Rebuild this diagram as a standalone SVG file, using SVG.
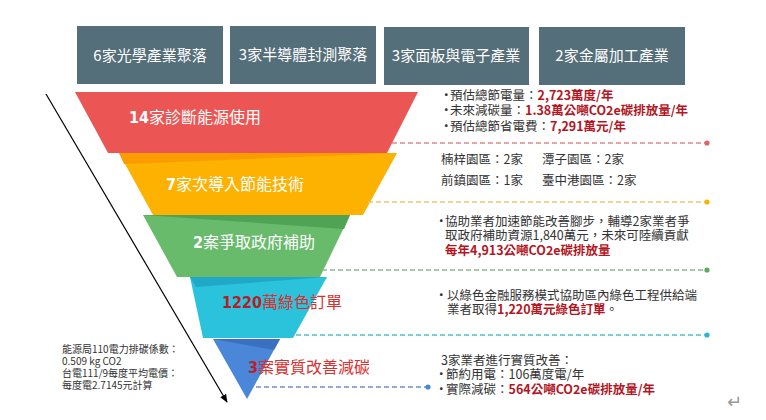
<svg xmlns="http://www.w3.org/2000/svg" width="766" height="420" viewBox="0 0 766 420">
<defs>
<style>
.hb{fill:#546e7a}
.ht{fill:#fff;font-family:"Noto Sans CJK TC","Liberation Sans",sans-serif;font-size:15px;text-anchor:middle}
.ft{font-family:"Noto Sans CJK TC","Liberation Sans",sans-serif;font-size:16px}
.num{font-family:"DejaVu Sans Condensed","Liberation Sans",sans-serif;font-weight:bold}
.rt{font-family:"Noto Sans CJK TC","Liberation Sans",sans-serif;font-size:12.5px;fill:#333}
.red{fill:#b3161f;font-weight:bold}
.note{font-family:"Noto Sans CJK TC","Liberation Sans",sans-serif;font-size:10px;fill:#333}
.dash{fill:none;stroke-width:1.3;stroke-dasharray:5 3}
</style>
<marker id="ah" viewBox="0 0 10 10" refX="9" refY="5" markerWidth="7" markerHeight="7" orient="auto">
<path d="M0,1 L10,5 L0,9 z" fill="#000"/>
</marker>
</defs>
<rect width="766" height="420" fill="#fff"/>

<g id="header1"><rect class="hb" x="77" y="26" width="146" height="58"/><text class="ht" x="150" y="61">6家光學產業聚落</text></g>
<g id="header2"><rect class="hb" x="230" y="26" width="146" height="58"/><text class="ht" x="303" y="60">3家半導體封測聚落</text></g>
<g id="header3"><rect class="hb" x="384" y="27" width="145" height="58"/><text class="ht" x="456" y="61">3家面板與電子產業</text></g>
<g id="header4"><rect class="hb" x="539" y="27" width="146" height="58"/><text class="ht" x="612" y="61">2家金屬加工產業</text></g>

<g id="funnel1">
<polygon points="75,92 418,92 387,153 108,153" fill="#eb5654"/>
<text class="ft" x="129" y="123" fill="#fff"><tspan class="num">14</tspan>家診斷能源使用</text>
</g>
<g id="funnel2">
<polygon points="119,153 397,153 363,215 153,215" fill="#fdb100"/>
<polygon points="119,153 397,153 124,164" fill="#fa9c00"/>
<text class="ft" x="166" y="190" fill="#fff"><tspan class="num">7</tspan>家次導入節能技術</text>
</g>
<g id="funnel3">
<polygon points="143,215 350,215 320,277 177,277" fill="#67bb6b"/>
<polygon points="143,215 350,215 344,229" fill="#4fa354"/>
<text class="ft" x="193" y="248" fill="#fff"><tspan class="num">2</tspan>案爭取政府補助</text>
</g>
<g id="funnel4">
<polygon points="190,277 327,277 293,338 203,338" fill="#2bc3db"/>
<polygon points="190,277 327,277 196,287" fill="#20a8c9"/>
<text class="ft" x="222" y="308" fill="#d9302f"><tspan class="num" fill="#b81d26">1220</tspan>萬綠色訂單</text>
</g>
<g id="funnel5">
<polygon points="213,339 280,339 247,399" fill="#4a87d8"/>
<polygon points="213,339 280,339 274,350" fill="#3a70c2"/>
<text class="ft" x="248" y="373" fill="#d9302f"><tspan class="num" fill="#c01e28">3</tspan>案實質改善減碳</text>
</g>

<g id="connectors">
<line x1="46" y1="94" x2="227" y2="402" stroke="#000" stroke-width="1.2" marker-end="url(#ah)"/>
<line class="dash" x1="392" y1="143" x2="705" y2="143" stroke="#d98b8b"/>
<circle cx="707" cy="143" r="2.6" fill="#e46262"/>
<line class="dash" x1="368" y1="202" x2="705" y2="202" stroke="#f0c66c"/>
<circle cx="707" cy="202" r="2.6" fill="#f5b400"/>
<line class="dash" x1="322" y1="270" x2="705" y2="270" stroke="#8fb891"/>
<circle cx="707" cy="270" r="2.6" fill="#5aad5e"/>
<line class="dash" x1="296" y1="335" x2="705" y2="335" stroke="#58bccb"/>
<circle cx="707" cy="335" r="2.6" fill="#2ab6cf"/>
<line class="dash" x1="256" y1="387" x2="426" y2="387" stroke="#6f93c0"/>
<circle cx="428" cy="387" r="2.6" fill="#4a86d6"/>
</g>

<g id="info1">
<text class="rt" x="440" y="100">•<tspan dx="-2.5">預估總節電量：</tspan><tspan class="red">2,723萬度/年</tspan></text>
<text class="rt" x="440" y="115">•<tspan dx="-2.5">未來減碳量：</tspan><tspan class="red">1.38萬公噸CO2e碳排放量/年</tspan></text>
<text class="rt" x="440" y="131">•<tspan dx="-2.5">預估總節省電費：</tspan><tspan class="red">7,291萬元/年</tspan></text>
</g>
<g id="info2">
<text class="rt" x="441" y="164">楠梓園區：2家</text>
<text class="rt" x="542" y="164">潭子園區：2家</text>
<text class="rt" x="441" y="185">前鎮園區：1家</text>
<text class="rt" x="542" y="185">臺中港園區：2家</text>
</g>
<g id="info3">
<text class="rt" x="435" y="226">•<tspan dx="-2.5">協助業者加速節能改善腳步，輔導2家業者爭</tspan></text>
<text class="rt" x="445" y="240">取政府補助資源1,840萬元，未來可陸續貢獻</text>
<text class="rt red" x="445" y="255">每年4,913公噸CO2e碳排放量</text>
</g>
<g id="info4">
<text class="rt" x="435" y="300">•<tspan dx="-0.5">以綠色金融服務模式協助區內綠色工程供給端</tspan></text>
<text class="rt" x="447" y="314">業者取得<tspan class="red">1,220萬元綠色訂單</tspan>。</text>
</g>
<g id="info5">
<text class="rt" x="441" y="365">3家業者進行實質改善：</text>
<text class="rt" x="435" y="379">•<tspan dx="-1.5">節約用電：106萬度電/年</tspan></text>
<text class="rt" x="435" y="394">•<tspan dx="-1.5">實際減碳：</tspan><tspan class="red">564公噸CO2e碳排放量/年</tspan></text>
</g>

<g id="note">
<text class="note" x="62" y="353">能源局110電力排碳係數：</text>
<text class="note" x="62" y="365">0.509 kg CO2</text>
<text class="note" x="62" y="377">台電111/9每度平均電價：</text>
<text class="note" x="62" y="389">每度電2.7145元計算</text>
</g>
<text x="727" y="408" font-family="DejaVu Sans,sans-serif" font-size="18" fill="#999">↵</text>
</svg>
